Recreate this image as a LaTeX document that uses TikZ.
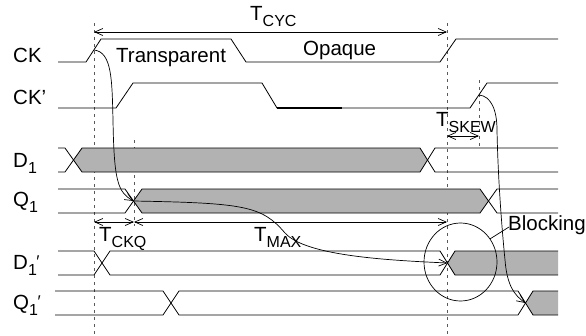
\documentclass[tikz,border=0pt]{standalone}
\usepackage{fontspec}
\setmainfont{Liberation Sans}
\usetikzlibrary{arrows.meta,shapes.geometric}
\newcommand{\sbs}[1]{\raisebox{-6pt}{\fontsize{16}{16}\selectfont #1}}
\newcommand{\prm}{\kern-0.5pt\raisebox{2pt}{\fontsize{17}{17}\selectfont ′}}
\begin{document}
\begin{tikzpicture}[x=1pt,y=-1pt,
  sig/.style={line width=0.8pt},
  guide/.style={dash pattern=on 3pt off 4pt, line width=0.8pt, black!65},
  meas/.style={line width=0.7pt,{Straight Barb[length=8pt,width=7pt]}-{Straight Barb[length=8pt,width=7pt]}},
  flow/.style={line width=0.7pt,-{Straight Barb[length=8pt,width=7pt]}},
  lbl/.style={anchor=base west, inner sep=0pt, font=\fontsize{20.5}{24}\selectfont},
  busfill/.style={fill=black!30}]
\useasboundingbox (0,0) rectangle (586,335);

% guide lines
\coordinate (g1t) at (94,23);  \coordinate (g1b) at (94,335);
\coordinate (g2t) at (447,23); \coordinate (g2b) at (447,335);
\coordinate (g3t) at (134,140); \coordinate (g3b) at (134,226);
\coordinate (g4t) at (479,80); \coordinate (g4b) at (479,148);
\draw[guide] (g1t) -- (g1b);
\draw[guide] (g2t) -- (g2b);
\draw[guide] (g3t) -- (g3b);
\draw[guide] (g4t) -- (g4b);

% signal names
\node[lbl] (nCK)  at (13,62)  {CK};
\node[lbl] (nCKp) at (13,104) {CK’};
\node[lbl] (nD)   at (13,167) {D\sbs{1}};
\node[lbl] (nQ)   at (13,206) {Q\sbs{1}};
\node[lbl] (nDp)  at (13,269) {D\sbs{1}\prm};
\node[lbl] (nQp)  at (13,309) {Q\sbs{1}\prm};

% CK
\draw[sig] (58,62) -- (86,62) -- (101,39) -- (231,39) -- (246,62) -- (440,62) -- (456,39) -- (558,39);
% CK'
\draw[sig] (58,108) -- (116,108) -- (133,83) -- (262,83) -- (277,108) -- (470,108) -- (487,83) -- (558,83);
\draw[line width=1.4pt] (277,108) -- (342,108);

% D1
\fill[busfill] (73.5,160) -- (82,148) -- (420,148) -- (427.5,160) -- (420,172) -- (82,172) -- cycle;
\draw[sig] (58,148) -- (65,148) -- (82,172) -- (420,172) -- (435,148) -- (558,148);
\draw[sig] (58,172) -- (65,172) -- (82,148) -- (420,148) -- (435,172) -- (558,172);
% Q1
\fill[busfill] (133.5,201) -- (142,189) -- (480,189) -- (488.5,201) -- (480,213) -- (142,213) -- cycle;
\draw[sig] (58,189) -- (125,189) -- (142,213) -- (480,213) -- (497,189) -- (558,189);
\draw[sig] (58,213) -- (125,213) -- (142,189) -- (480,189) -- (497,213) -- (558,213);
% D1'
\fill[busfill] (447.5,263) -- (455,251) -- (558,251) -- (558,275) -- (455,275) -- cycle;
\draw[sig] (58,251) -- (94,251) -- (110,275) -- (440,275) -- (455,251) -- (558,251);
\draw[sig] (58,275) -- (94,275) -- (110,251) -- (440,251) -- (455,275) -- (558,275);
% Q1'
\fill[busfill] (525.5,303) -- (533,291) -- (558,291) -- (558,315) -- (533,315) -- cycle;
\draw[sig] (55,291) -- (163,291) -- (179,315) -- (518,315) -- (533,291) -- (558,291);
\draw[sig] (55,315) -- (163,315) -- (179,291) -- (518,291) -- (533,315) -- (558,315);

% phase labels
\node[lbl] (tr) at (116,62) {Transparent};
\node[lbl] (op) at (303,55) {Opaque};

% timing measures
\coordinate (cycL) at (94,32);  \coordinate (cycR) at (447,32);
\draw[meas] (cycL) -- (cycR);
\node[lbl] (tcyc) at (250,20) {T\sbs{CYC}};

\coordinate (skL) at (447,136); \coordinate (skR) at (479,136);
\draw[meas] (skL) -- (skR);
\node[lbl] (tsk) at (436,126) {T\sbs{SKEW}};

\coordinate (ckqL) at (94,222); \coordinate (ckqR) at (134,222);
\draw[meas] (ckqL) -- (ckqR);
\coordinate (maxR) at (447,222);
\draw[meas] (ckqR) -- (maxR);
\node[lbl] (tckq) at (99,241) {T\sbs{CKQ}};
\node[lbl] (tmax) at (254,241) {T\sbs{MAX}};

% causal arrows
\coordinate (ckrise) at (94,50);
\coordinate (q1x) at (133.5,201);
\coordinate (d1px) at (447.5,263);
\coordinate (ckprise) at (479,95);
\coordinate (q1px) at (525.5,303);
\draw[flow] (ckrise) .. controls (112,52) and (112,80) .. (113,120)
  .. controls (114,182) and (118,192) .. (q1x);
\draw[flow] (q1x) .. controls (245,203) and (262,206) .. (285,233)
  .. controls (305,255) and (380,260) .. (d1px);
\draw[flow] (ckprise) .. controls (491,96) and (497,110) .. (497,130)
  .. controls (498,180) and (502,230) .. (505,260)
  .. controls (507,285) and (514,295) .. (q1px);

% blocking
\node[draw, ellipse, line width=0.7pt, minimum width=73pt, minimum height=78pt, inner sep=0pt] (blk) at (460.5,262) {};
\node[lbl] (blab) at (508,230) {Blocking};
\coordinate (bl) at (509,227);
\draw[line width=0.7pt] (blk.38) -- (bl);
\end{tikzpicture}
\end{document}
